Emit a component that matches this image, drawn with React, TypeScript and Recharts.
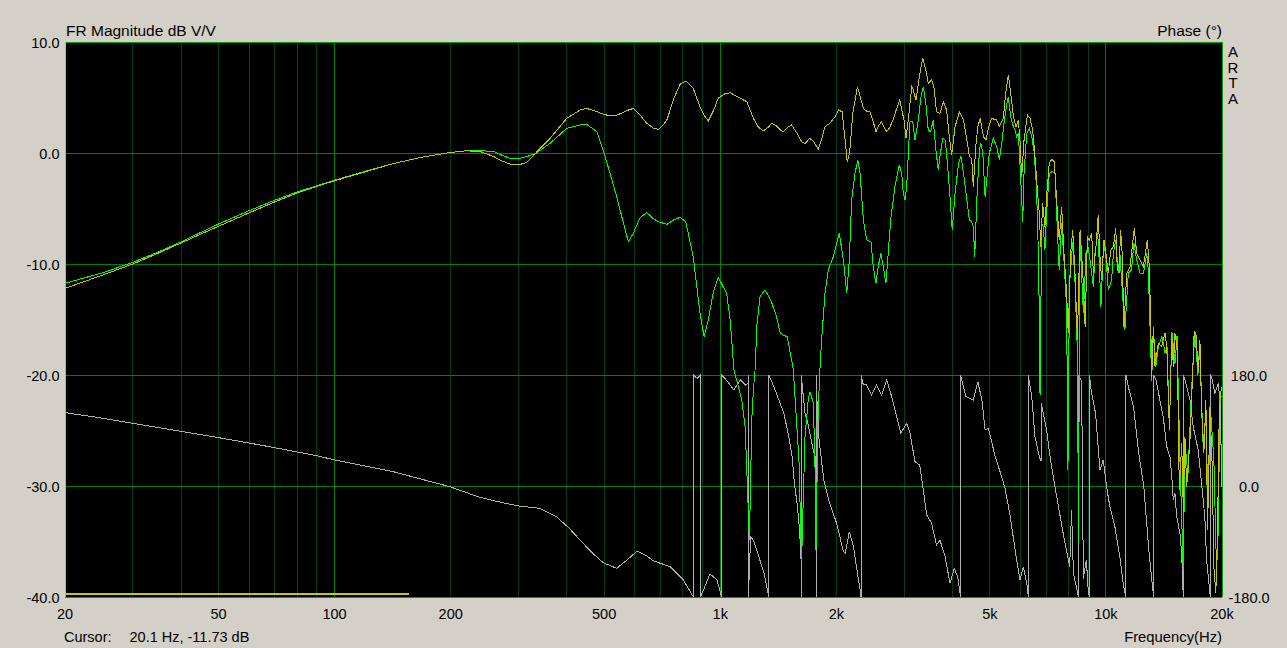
import React from 'react';
import { LineChart, Line, XAxis, YAxis, ReferenceLine } from 'recharts';

const FONT = '"Liberation Sans", Arial, sans-serif';

// axis ticks
const X_TICKS = [20, 50, 100, 200, 500, 1000, 2000, 5000, 10000, 20000];
const DB_TICKS = [-40, -30, -20, -10, 0, 10];
const PHASE_TICKS = [-180, 0, 180];

// grid
const MINOR_FREQS = [30, 40, 50, 60, 70, 80, 90, 200, 300, 400, 500, 600, 700, 800, 900, 2000, 3000, 4000, 5000, 6000, 7000, 8000, 9000];
const MAJOR_FREQS = [100, 1000, 10000];
const DB_LINES = [-30, -20, -10, 0];

const CURSOR_FREQ = 20.1;
const CURSOR_DB = -11.73;
const BAND = [[20, -39.73], [156, -39.73]];

// [Hz, dB] yellow magnitude
const YELLOW: number[][] = [
  [20, -12.2], [25, -11.0], [30, -10.0], [35, -9.0], [40, -8.1], [50, -6.6], [60, -5.4], [70, -4.4], [80, -3.6], [90, -3.0],
  [100, -2.5], [120, -1.7], [142, -0.95], [170, -0.35], [200, 0.05], [220, 0.2], [240, 0.1], [259, -0.33], [268, -0.63], [285, -1.0],
  [300, -1.08], [315, -0.84], [330, -0.12], [345, 0.6], [362, 1.32], [380, 2.2], [400, 3.12], [433, 3.87], [450, 4.02], [479, 3.72],
  [497, 3.51], [518, 3.33], [539, 3.4], [578, 3.87], [595, 4.02], [620, 3.4], [645, 2.67], [670, 2.25], [691, 2.13], [710, 2.5],
  [727, 2.97], [760, 5.0], [787, 6.2], [814, 6.49], [851, 5.83], [886, 4.17], [908, 3.42], [931, 2.88], [960, 3.8], [988, 4.93],
  [1030, 5.35], [1061, 5.43], [1128, 4.93], [1172, 4.62], [1219, 3.12], [1257, 2.31], [1294, 2.0], [1330, 2.3], [1360, 2.67], [1400, 2.43],
  [1430, 2.1], [1457, 1.92], [1495, 2.3], [1530, 2.52], [1580, 1.8], [1626, 1.02], [1659, 0.87], [1708, 1.32], [1750, 1.0], [1795, 0.33],
  [1830, 1.2], [1869, 2.37], [1922, 2.67], [1986, 3.27], [2027, 3.87], [2070, 3.72], [2112, 0.87], [2134, -0.78], [2165, -0.03], [2207, 3.57],
  [2268, 5.98], [2310, 5.0], [2350, 4.02], [2400, 3.75], [2445, 3.72], [2490, 2.9], [2533, 1.92], [2580, 2.5], [2620, 2.82], [2660, 2.3],
  [2702, 1.92], [2750, 2.3], [2807, 2.97], [2860, 3.9], [2922, 4.77], [2995, 2.97], [3032, 1.32], [3074, 2.97], [3137, 5.98], [3167, 5.68],
  [3217, 4.77], [3282, 6.87], [3349, 8.53], [3414, 7.48], [3462, 6.28], [3532, 6.58], [3581, 5.98], [3638, 3.72], [3713, 3.57], [3787, 4.62],
  [3865, 3.87], [3926, 1.47], [3981, -0.18], [4064, 2.37], [4173, 3.72], [4275, 2.97], [4361, 1.17], [4427, -0.33], [4488, -0.48], [4531, -3.03],
  [4598, 0.57], [4655, 2.37], [4720, 3.12], [4814, 1.47], [4890, 1.17], [4955, 2.22], [5054, 3.12], [5212, 2.97], [5293, 2.37], [5418, 3.12],
  [5503, 5.53], [5583, 7.03], [5666, 5.38], [5756, 3.27], [5849, 2.37], [5928, 2.97], [5986, 1.17], [6048, -2.13], [6134, 1.17], [6257, 3.42],
  [6358, 3.12], [6459, 2.07], [6548, -0.33], [6641, -3.33], [6720, -5.43], [6776, -8.44], [6857, -4.53], [6949, -6.63], [7017, -3.93], [7130, -0.93],
  [7235, -0.57], [7348, -0.78], [7452, -4.23], [7567, -7.84], [7678, -4.83], [7785, -9.04], [7910, -12.64], [7986, -16.24], [8103, -9.04], [8201, -6.94],
  [8314, -10.84], [8436, -16.85], [8570, -6.94], [8712, -10.84], [8833, -15.65], [8956, -7.54], [9055, -7.84], [9187, -7.24], [9275, -10.84], [9423, -8.44],
  [9553, -5.58], [9652, -9.34], [9750, -11.44], [9884, -7.84], [10000, -9.04], [10144, -10.84], [10294, -8.74], [10456, -8.44], [10606, -6.79], [10706, -10.54],
  [10813, -10.84], [10919, -6.94], [11021, -9.04], [11138, -15.65], [11324, -10.84], [11552, -10.24], [11848, -6.79], [12015, -9.04], [12261, -9.64], [12508, -10.24],
  [12806, -7.84], [12955, -10.24], [13064, -15.05], [13144, -20.15], [13272, -15.65], [13408, -19.25], [13672, -17.14], [13944, -17.45], [14235, -16.24], [14383, -17.45],
  [14609, -24.95], [14818, -16.4], [14957, -19.25], [15102, -16.24], [15315, -17.65], [15500, -30.36], [15722, -26.16], [15870, -31.86], [16029, -25.56], [16196, -30.06],
  [16520, -25.86], [16784, -19.85], [16941, -16.1], [17114, -16.24], [17353, -19.55], [17530, -16.85], [17706, -23.15], [17948, -27.06], [18166, -22.25], [18354, -33.96],
  [18609, -22.85], [18864, -28.26], [19052, -37.27], [19276, -39.67], [19468, -34.26], [19649, -24.65], [19808, -21.65], [20000, -21.05],
];

// [Hz, dB] green magnitude
const GREEN: number[][] = [
  [20, -11.74], [25, -10.8], [30, -9.85], [35, -8.9], [40, -8.0], [50, -6.4], [60, -5.2], [70, -4.25], [80, -3.5], [90, -2.95],
  [100, -2.45], [120, -1.65], [142, -0.95], [170, -0.35], [200, 0.05], [220, 0.2], [240, 0.22], [260, 0.1], [268, -0.12], [285, -0.48],
  [300, -0.5], [315, -0.33], [334, 0.0], [362, 0.87], [400, 2.22], [433, 2.52], [450, 2.58], [479, 1.92], [497, 0.27], [518, -1.83],
  [539, -3.93], [560, -6.2], [578, -7.99], [595, -7.24], [620, -5.8], [645, -5.37], [670, -5.9], [691, -6.19], [727, -6.43], [760, -6.0],
  [787, -5.8], [814, -6.19], [851, -9.34], [886, -14.4], [908, -16.55], [931, -15.05], [960, -12.5], [988, -11.2], [1039, -12.64], [1061, -15.05],
  [1071, -16.85], [1085, -19.55], [1103, -20.45], [1137, -22.25], [1160, -24.65], [1172, -28.6], [1183, -32.46], [1190, -34.9], [1199, -29.5], [1207, -24.05],
  [1219, -21.35], [1231, -19.55], [1245, -15.5], [1269, -12.9], [1306, -12.34], [1354, -13.3], [1400, -14.75], [1430, -16.2], [1457, -16.4], [1492, -16.55],
  [1547, -19.5], [1600, -27.66], [1617, -33.96], [1626, -36.67], [1636, -33.06], [1659, -25.56], [1691, -22.25], [1708, -21.5], [1743, -22.5], [1760, -27.66],
  [1771, -35.8], [1784, -28.6], [1795, -23.15], [1813, -19.55], [1832, -16.8], [1869, -12.64], [1906, -10.54], [1964, -9.34], [2036, -7.24], [2086, -9.64],
  [2129, -12.64], [2161, -9.64], [2191, -4.23], [2236, -1.83], [2273, -0.63], [2305, -1.83], [2350, -6.04], [2397, -7.84], [2459, -7.99], [2493, -10.24],
  [2533, -11.74], [2567, -10.24], [2610, -9.04], [2647, -10.24], [2689, -11.74], [2726, -9.04], [2766, -6.04], [2838, -3.03], [2913, -1.08], [2955, -1.83],
  [2983, -3.63], [3013, -4.23], [3044, -3.03], [3074, -0.03], [3105, 2.82], [3156, 2.82], [3198, 1.17], [3263, 2.97], [3310, 4.93], [3361, 5.98],
  [3414, 4.47], [3462, 2.07], [3512, 1.92], [3567, 2.97], [3624, 0.27], [3675, -1.53], [3713, -0.33], [3773, 1.32], [3833, 1.17], [3889, -1.23],
  [3942, -3.93], [3995, -6.94], [4064, -3.63], [4148, -0.93], [4209, -0.33], [4275, -1.83], [4361, -4.23], [4427, -6.04], [4488, -6.19], [4531, -6.63],
  [4570, -9.34], [4627, -4.23], [4700, 0.27], [4740, 0.87], [4796, -0.03], [4861, -3.93], [4910, -2.43], [4983, -0.03], [5106, 1.32], [5212, 0.57],
  [5293, -0.63], [5368, 0.87], [5441, 2.67], [5528, 4.33], [5583, 5.02], [5666, 3.27], [5735, 2.52], [5814, 2.07], [5873, 1.47], [5928, 1.77],
  [6011, -2.13], [6086, -6.19], [6134, -1.83], [6235, 1.77], [6332, 2.22], [6422, 1.47], [6507, 0.27], [6589, -2.43], [6641, -5.43], [6697, -10.54],
  [6749, -21.8], [6817, -6.34], [6881, -6.63], [6949, -8.74], [7017, -5.43], [7130, -1.83], [7261, -1.68], [7378, -1.83], [7452, -5.43], [7567, -10.54],
  [7678, -6.34], [7785, -9.64], [7910, -14.0], [7972, -28.6], [8044, -12.0], [8201, -8.0], [8314, -11.5], [8436, -18.0], [8493, -35.0], [8550, -10.0],
  [8570, -7.84], [8743, -14.44], [8880, -9.04], [9000, -8.44], [9187, -10.84], [9275, -12.04], [9370, -9.04], [9523, -7.24], [9598, -9.34], [9706, -13.84],
  [9840, -9.04], [9957, -8.44], [10144, -12.34], [10346, -11.44], [10456, -9.04], [10606, -7.84], [10764, -10.84], [10870, -9.04], [11200, -15.95], [11430, -10.84],
  [11650, -10.54], [11820, -8.14], [12015, -9.64], [12261, -10.84], [12508, -10.84], [12760, -9.04], [12880, -10.54], [13008, -15.35], [13144, -20.5], [13272, -15.9],
  [13480, -19.2], [13672, -17.5], [13970, -16.5], [14235, -18.0], [14410, -17.5], [14609, -24.9], [14830, -16.1], [15102, -19.0], [15290, -16.5], [15570, -28.0],
  [15870, -37.6], [16029, -26.0], [16320, -29.0], [16700, -21.0], [17010, -16.1], [17320, -20.0], [17530, -17.5], [17850, -26.0], [18166, -24.0], [18380, -31.0],
  [18710, -23.5], [19052, -27.7], [19360, -37.6], [19560, -34.0], [19760, -21.9], [20000, -22.0],
];

// [Hz, degrees] phase, wrapped to +/-180
const PHASE: number[][] = [
  [20, 119], [25, 110], [30, 101.6], [40, 88.7], [50, 78.4], [60, 69.7], [70, 62.1], [80, 55.1], [90, 49.2], [100, 42.2],
  [120, 32.5], [142, 23.2], [168, 11], [199, -1.1], [238, -18.4], [268, -26], [300, -32.4], [341, -36.2], [376, -49.7], [405, -68],
  [433, -87.6], [465, -108], [497, -124.3], [539, -133.5], [573, -120], [609, -105.4], [640, -112], [669, -121.1], [741, -130.8], [802, -152.4],
  [852, -180], [852, 180], [871, 174.6], [888, 180], [888, -180], [903, -170], [940, -142.6], [980, -152], [1009, -180], [1009, 180],
  [1046, 169.1], [1084, 155.7], [1105, 163.8], [1128, 171.9], [1163, 163.8], [1181, 166.5], [1183, 180], [1183, -180], [1199, -82.2], [1218, -87.6],
  [1259, -114.6], [1299, -141.6], [1330, -174], [1336, -180], [1336, 180], [1378, 161], [1419, 139.5], [1462, 117.9], [1506, 80], [1536, 47.5],
  [1557, 4.3], [1582, -28.1], [1606, -71.3], [1622, -125.4], [1626, -180], [1626, 180], [1630, 165], [1659, 117.9], [1691, 98.9], [1743, 58.4],
  [1771, 42.2], [1776, -180], [1776, 180], [1780, 144.8], [1800, 80], [1856, 9.7], [1922, -28.1], [2004, -60.5], [2086, -106.5], [2108, -109.2],
  [2162, -74.1], [2216, -98.4], [2262, -136.2], [2305, -168.6], [2318, -180], [2318, 180], [2350, 163.8], [2397, 163.8], [2467, 147.6], [2540, 163.8],
  [2620, 147.6], [2702, 171.9], [2783, 144.8], [2938, 85.5], [3044, 101.7], [3105, 85.5], [3198, 39.4], [3291, 34.1], [3361, -6.5], [3430, -47],
  [3532, -60.5], [3638, -95.7], [3713, -87.6], [3829, -114.6], [3942, -157.8], [4043, -133.5], [4126, -147.1], [4200, -180], [4200, 180], [4337, 144.8],
  [4530, 139.5], [4655, 169.1], [4770, 139.5], [4862, 90.8], [4960, 93.6], [5163, 47.5], [5368, 15.1], [5475, -3.8], [5651, -49.7], [5815, -103.8],
  [5984, -152.4], [6108, -130.8], [6235, -157.8], [6296, -180], [6296, 180], [6320, 171.9], [6422, 144.8], [6548, 80], [6720, 47.5], [6790, 40],
  [6800, 134.1], [7017, 90.8], [7165, 47.5], [7325, 9.7], [7560, -38.9], [7803, -87.6], [8057, -130.8], [8146, -38.9], [8236, -141.6], [8493, -180],
  [8493, 180], [8650, 170], [8740, -150], [8900, -120], [9000, -170], [9060, -180], [9060, 180], [9155, 155.7], [9400, 117.9], [9652, 25.9],
  [9840, 42.2], [10040, -1.1], [10240, -33.5], [10550, -66], [10870, -114.6], [11085, -157.8], [11270, -180], [11270, 180], [11430, 161], [11790, 128.6],
  [12165, 53], [12540, -1.1], [12920, -103.8], [13180, -157.8], [13300, -180], [13300, 180], [13500, 171.9], [13800, 139.5], [14080, 112.4], [14380, 63.7],
  [14660, 47.5], [14800, 20.6], [14950, -22.7], [15100, -11.8], [15260, -49.7], [15560, -76.7], [15720, -109.1], [15870, -180], [15870, 180], [16030, 171.9],
  [16520, 139.5], [16840, 96.2], [17350, 58.4], [17700, 4.4], [18050, -49.7], [18240, -120], [18610, -174], [18650, -180], [18650, 180], [18800, 177],
  [19170, 150.3], [19560, 166.5], [19760, 139.5], [20000, -1.1],
];

const toPts = (arr: number[][]) => arr.map(([f, v]) => ({ f, v }));

const fmtHz = (v: number) => (v >= 1000 ? `${v / 1000}k` : `${v}`);

const XTick = (p: any) => (
  <text x={p.x} y={p.y + 22} textAnchor="middle" fontSize={14.5} fontFamily={FONT} fill="#000">
    {fmtHz(p.payload.value)}
  </text>
);

const DbTick = (p: any) => (
  <text x={p.x} y={p.y + 6} textAnchor="end" fontSize={14.5} fontFamily={FONT} fill="#000">
    {Number(p.payload.value).toFixed(1)}
  </text>
);

const PhaseTick = (p: any) => (
  <text x={p.x} y={p.y + 5.5} textAnchor="middle" fontSize={14.5} fontFamily={FONT} fill="#000">
    {Number(p.payload.value).toFixed(1)}
  </text>
);

const App: React.FC = () => {
  const txt = { fontFamily: FONT, fill: '#000' };
  return (
    <div style={{ position: 'absolute', left: 0, top: 0, width: 1287, height: 648, background: '#d4d0c8', overflow: 'hidden' }}>
      <div style={{ position: 'absolute', left: 65, top: 42, width: 1157, height: 555, background: '#000' }} />
      <div style={{ position: 'absolute', left: 0, top: 0 }}>
        <LineChart width={1287} height={648} margin={{ top: 42, right: 0, bottom: 0, left: 0 }}>
          <XAxis
            dataKey="f" type="number" scale="log" domain={[20, 20000]} ticks={X_TICKS} interval={0}
            allowDataOverflow height={51} axisLine={false} tickLine={false} tickSize={0} tickMargin={0} tick={XTick}
          />
          <YAxis
            yAxisId="db" domain={[-40, 10]} ticks={DB_TICKS} interval={0} allowDataOverflow width={65}
            axisLine={false} tickLine={false} tickSize={0} tickMargin={5.5} tick={DbTick}
          />
          <YAxis
            yAxisId="ph" orientation="right" domain={[-180, 720]} ticks={PHASE_TICKS} interval={0} allowDataOverflow width={65}
            axisLine={false} tickLine={false} tickSize={0} tickMargin={27} tick={PhaseTick}
          />
          {MINOR_FREQS.map(f => (
            <ReferenceLine key={`mx${f}`} yAxisId="db" x={f} stroke="#003c1e" strokeWidth={1} shapeRendering="crispEdges" />
          ))}
          {MAJOR_FREQS.map(f => (
            <ReferenceLine key={`Mx${f}`} yAxisId="db" x={f} stroke="#008000" strokeWidth={1} shapeRendering="crispEdges" />
          ))}
          {DB_LINES.map(d => (
            <ReferenceLine key={`y${d}`} yAxisId="db" y={d} stroke="#008000" strokeWidth={1} shapeRendering="crispEdges" />
          ))}
          <ReferenceLine yAxisId="db" y={10} stroke="#00a000" strokeWidth={1} shapeRendering="crispEdges" />
          <ReferenceLine yAxisId="db" y={-40} stroke="#00a000" strokeWidth={1} shapeRendering="crispEdges" />
          <ReferenceLine yAxisId="db" x={20000} stroke="#00a000" strokeWidth={1} shapeRendering="crispEdges" />
          <ReferenceLine yAxisId="db" x={CURSOR_FREQ} stroke="#c8c800" strokeWidth={1} shapeRendering="crispEdges" />
          <Line yAxisId="ph" data={toPts(PHASE)} dataKey="v" type="linear" stroke="#b0b0b0" strokeWidth={1} dot={false} isAnimationActive={false} shapeRendering="crispEdges" />
          <Line yAxisId="db" data={toPts(GREEN)} dataKey="v" type="linear" stroke="#00ff00" strokeWidth={1} dot={false} isAnimationActive={false} shapeRendering="crispEdges" />
          <Line yAxisId="db" data={toPts(YELLOW)} dataKey="v" type="linear" stroke="#c8c800" strokeWidth={1} dot={false} isAnimationActive={false} shapeRendering="crispEdges" />
          <Line yAxisId="db" data={toPts(BAND)} dataKey="v" type="linear" stroke="#c8c800" strokeWidth={2} dot={false} isAnimationActive={false} shapeRendering="crispEdges" />
        </LineChart>
      </div>
      <svg width={1287} height={648} style={{ position: 'absolute', left: 0, top: 0, pointerEvents: 'none' }}>
        <text x={66} y={36} fontSize={15.5} {...txt}>FR Magnitude dB V/V</text>
        <text x={1222} y={36} fontSize={15.5} textAnchor="end" {...txt}>Phase (°)</text>
        {['A', 'R', 'T', 'A'].map((c, i) => (
          <text key={i} x={1233} y={57 + i * 15.6} fontSize={15} textAnchor="middle" {...txt}>{c}</text>
        ))}
        <text x={64} y={642} fontSize={14.5} {...txt}>Cursor:</text>
        <text x={129.5} y={642} fontSize={14.5} {...txt}>{`${CURSOR_FREQ} Hz, ${CURSOR_DB} dB`}</text>
        <text x={1222} y={642} fontSize={14.8} textAnchor="end" {...txt}>Frequency(Hz)</text>
      </svg>
    </div>
  );
};

export default App;
